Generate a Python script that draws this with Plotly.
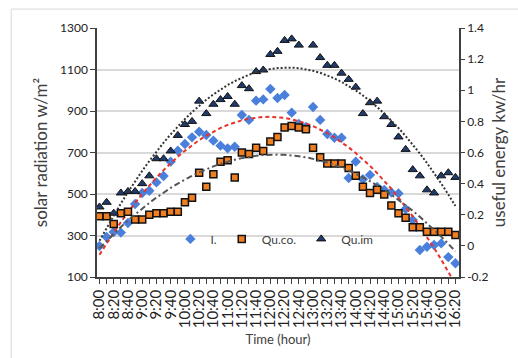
import numpy as np
import plotly.graph_objects as go

times = ["8:00", "8:10", "8:20", "8:30", "8:40", "8:50", "9:00", "9:10", "9:20", "9:30",
         "9:40", "9:50", "10:00", "10:10", "10:20", "10:30", "10:40", "10:50", "11:00", "11:10",
         "11:20", "11:30", "11:40", "11:50", "12:00", "12:10", "12:20", "12:30", "12:40", "12:50",
         "13:00", "13:10", "13:20", "13:30", "13:40", "13:50", "14:00", "14:10", "14:20", "14:30",
         "14:40", "14:50", "15:00", "15:10", "15:20", "15:30", "15:40", "15:50", "16:00", "16:10",
         "16:20"]

# solar radiation I (W/m2) - left axis
radiation = [249, 293, 317, 314, 360, 452, 505, 516, 556, 587,
             656, 709, 741, 773, 800, 784, 757, 733, 720, 728,
             881, 857, 950, 956, 1006, 963, 977, 892, 837, 823,
             919, 857, 789, 771, 771, 577, 656, 571, 592, 534,
             519, 507, 503, 428, 375, 230, 246, 254, 262, 196, 166]

# useful energy, conventional collector Qu.co. (kW/hr) - right axis
qu_co = [0.19, 0.19, 0.14, 0.21, 0.22, 0.17, 0.17, 0.20, 0.21, 0.21,
         0.22, 0.22, 0.28, 0.31, 0.47, 0.38, 0.46, 0.54, 0.55, 0.44,
         0.60, 0.59, 0.63, 0.61, 0.67, 0.70, 0.76, 0.77, 0.76, 0.75,
         0.63, 0.57, 0.53, 0.53, 0.53, 0.50, 0.45, 0.38, 0.34, 0.36,
         0.33, 0.26, 0.21, 0.18, 0.12, 0.12, 0.09, 0.09, 0.09, 0.09, 0.07]

# useful energy, improved collector Qu.im (kW/hr) - right axis
qu_im = [0.25, 0.28, 0.21, 0.34, 0.35, 0.35, 0.40, 0.45, 0.56, 0.56,
         0.61, 0.71, 0.78, 0.80, 0.93, 0.85, 0.91, 0.94, 0.96, 0.91,
         1.03, 1.01, 1.12, 1.13, 1.23, 1.25, 1.32, 1.33, 1.29, None,
         1.29, 1.21, 1.16, 1.16, 1.11, 1.07, 1.02, 0.85, 0.92, 0.93,
         0.83, 0.78, 0.70, 0.62, 0.49, 0.45, 0.36, 0.34, 0.45, 0.47, 0.44]

left_ticks = [100, 300, 500, 700, 900, 1100, 1300]
right_ticks = [-0.2, 0, 0.2, 0.4, 0.6, 0.8, 1.0, 1.2, 1.4]
right_ticktext = ["-0.2", "0", "0.2", "0.4", "0.6", "0.8", "1", "1.2", "1.4"]
x_ticktext = [t if i % 2 == 0 else "" for i, t in enumerate(times)]


def poly_trend(values, deg=2):
    idx = np.array([i for i, v in enumerate(values) if v is not None], dtype=float)
    vals = np.array([v for v in values if v is not None], dtype=float)
    coef = np.polyfit(idx + 1, vals, deg)
    return np.polyval(coef, np.arange(len(values)) + 1)


FONT = "Lato, 'Open Sans', sans-serif"
fig = go.Figure()

fig.add_trace(go.Scatter(x=times, y=radiation, name="I.", mode="markers",
                         marker=dict(symbol="diamond", size=8, color="#4a80dc"), yaxis="y"))
fig.add_trace(go.Scatter(x=times, y=qu_co, name="Qu.co.", mode="markers",
                         marker=dict(symbol="square", size=7, color="#f07f22",
                                     line=dict(color="#111111", width=1.5)), yaxis="y2"))
fig.add_trace(go.Scatter(x=times, y=qu_im, name="Qu.im", mode="markers",
                         marker=dict(symbol="triangle-up", size=8, color="#1f3a6b",
                                     line=dict(color="#111111", width=1)), yaxis="y2"))

fig.add_trace(go.Scatter(x=times, y=poly_trend(radiation), mode="lines", showlegend=False,
                         line=dict(color="#e8322c", width=2, dash="4px,3px"), yaxis="y",
                         hoverinfo="skip"))
fig.add_trace(go.Scatter(x=times, y=poly_trend(qu_co), mode="lines", showlegend=False,
                         line=dict(color="#555555", width=2, dash="6px,3px,2px,3px"), yaxis="y2",
                         hoverinfo="skip"))
fig.add_trace(go.Scatter(x=times, y=poly_trend(qu_im), mode="lines", showlegend=False,
                         line=dict(color="#333333", width=2, dash="2px,2px"), yaxis="y2",
                         hoverinfo="skip"))

fig.update_layout(
    width=518, height=358,
    margin=dict(l=97, r=50, t=28, b=81),
    paper_bgcolor="white", plot_bgcolor="white",
    font=dict(family=FONT, color="#404040"),
    showlegend=True,
    legend=dict(orientation="h", x=0.49, y=0.153, xanchor="center", yanchor="middle",
                bgcolor="rgba(0,0,0,0)", font=dict(size=12, color="#404040"),
                itemwidth=30, tracegroupgap=0),
    xaxis=dict(type="category", range=[-0.35, 50.5],
               tickmode="array", tickvals=times, ticktext=x_ticktext,
               tickangle=-90, tickfont=dict(size=15, color="#222222"),
               ticks="outside", ticklen=5, tickcolor="#404040",
               showline=True, linecolor="#404040", linewidth=1.5,
               showgrid=False,
               title=dict(text="Time (hour)", font=dict(size=13, color="#404040"), standoff=8)),
    yaxis=dict(range=[100, 1300], tickmode="array", tickvals=left_ticks,
               tickfont=dict(size=12, color="#222222"),
               ticks="outside", ticklen=5, tickcolor="#404040",
               showline=True, linecolor="#404040", linewidth=1.5,
               showgrid=True, gridcolor="#d9d9d9", gridwidth=1.5, zeroline=False,
               title=dict(text="solar radiation w/m²", font=dict(size=17, color="#404040"),
                          standoff=8)),
    yaxis2=dict(range=[-0.2, 1.4], overlaying="y", side="right",
                tickmode="array", tickvals=right_ticks, ticktext=right_ticktext,
                tickfont=dict(size=12, color="#222222"),
                ticks="outside", ticklen=4, tickcolor="#404040",
                showline=True, linecolor="#404040", linewidth=1.5,
                showgrid=False, zeroline=False,
                title=dict(text="useful energy kw/hr", font=dict(size=17, color="#404040"),
                           standoff=6)),
    shapes=[dict(type="rect", xref="paper", yref="paper",
                 x0=-0.237, x1=1.3, y0=-0.5, y1=1.076,
                 line=dict(color="#d9d9d9", width=1), fillcolor="rgba(0,0,0,0)", layer="below")],
)

fig.write_html("out.html")
